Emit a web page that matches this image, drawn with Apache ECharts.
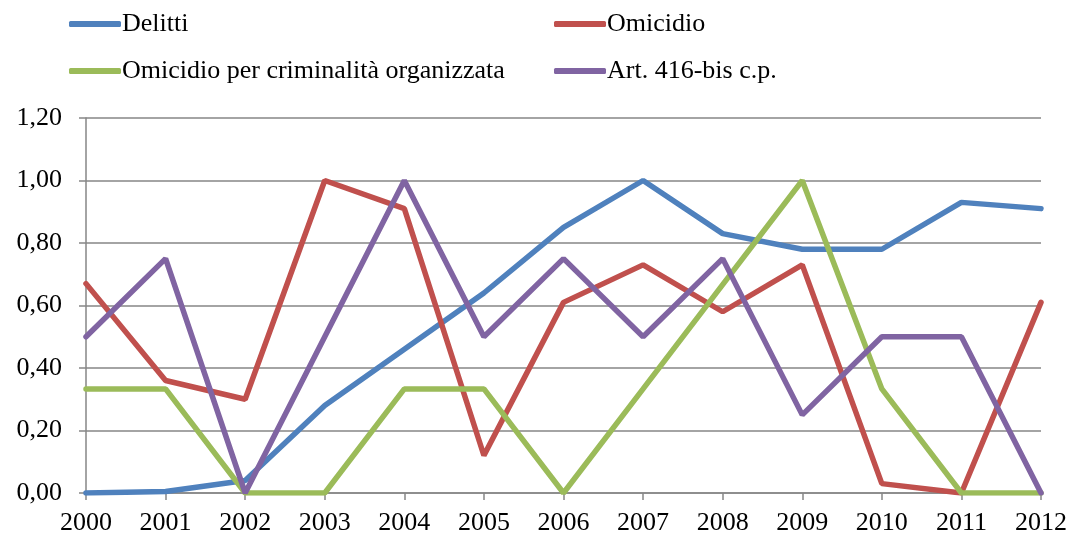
<!DOCTYPE html>
<html>
<head>
<meta charset="utf-8">
<script src="https://cdn.jsdelivr.net/npm/echarts@6/dist/echarts.min.js"></script>
<style>
  html, body { margin: 0; padding: 0; background: #fff; }
  #chart { width: 1074px; height: 539px; }
</style>
</head>
<body>
<div id="chart"></div>
<script>
var anni = ['2000','2001','2002','2003','2004','2005','2006','2007','2008','2009','2010','2011','2012'];
var delitti = [0.00, 0.005, 0.04, 0.28, 0.46, 0.64, 0.85, 1.00, 0.83, 0.78, 0.78, 0.93, 0.91];
var omicidio = [0.67, 0.36, 0.30, 1.00, 0.91, 0.12, 0.61, 0.73, 0.58, 0.73, 0.03, 0.00, 0.61];
var omicidioCO = [0.333, 0.333, 0, 0, 0.333, 0.333, 0, 0.333, 0.667, 1.00, 0.333, 0, 0];
var art416 = [0.50, 0.75, 0, 0.50, 1.00, 0.50, 0.75, 0.50, 0.75, 0.25, 0.50, 0.50, 0];

var font = 'Liberation Serif';
var mychart = echarts.init(document.getElementById('chart'));

function serie(nome, dati, colore) {
    return {
        name: nome,
        type: 'line',
        data: dati,
        symbol: 'none',
        lineStyle: { width: 5.5, color: colore, cap: 'round' },
        itemStyle: { color: colore }
    };
}

var legendaBase = {
    orient: 'vertical',
    top: 6,
    itemWidth: 52,
    itemHeight: 6,
    itemGap: 21,
    icon: 'roundRect',
    textStyle: { fontFamily: font, fontSize: 26, color: '#000', padding: [0, 0, 0, -4] }
};

mychart.setOption({
    animation: false,
    legend: [
        Object.assign({}, legendaBase, { left: 64, data: ['Delitti', 'Omicidio per criminalità organizzata'] }),
        Object.assign({}, legendaBase, { left: 549, data: ['Omicidio', 'Art. 416-bis c.p.'] })
    ],
    grid: { left: 86, right: 33, top: 118, bottom: 46, containLabel: false },
    xAxis: {
        type: 'category',
        data: anni,
        boundaryGap: false,
        axisLine: { lineStyle: { color: '#868686', width: 1.5 } },
        axisTick: { show: true, length: 7, lineStyle: { color: '#868686', width: 1.5 } },
        axisLabel: { fontFamily: font, fontSize: 26, color: '#000', margin: 17 }
    },
    yAxis: {
        type: 'value',
        min: 0,
        max: 1.2,
        interval: 0.2,
        axisLine: { show: true, lineStyle: { color: '#868686', width: 1.5 } },
        axisTick: { show: true, length: 7, lineStyle: { color: '#868686', width: 1.5 } },
        axisLabel: {
            fontFamily: font, fontSize: 26, color: '#000', margin: 24,
            formatter: function (v) { return v.toFixed(2).replace('.', ','); }
        },
        splitLine: { lineStyle: { color: '#868686', width: 1.5 } }
    },
    series: [
        serie('Delitti', delitti, '#4F81BD'),
        serie('Omicidio', omicidio, '#C0504D'),
        serie('Omicidio per criminalità organizzata', omicidioCO, '#9BBB59'),
        serie('Art. 416-bis c.p.', art416, '#8064A2')
    ]
});
</script>
</body>
</html>
